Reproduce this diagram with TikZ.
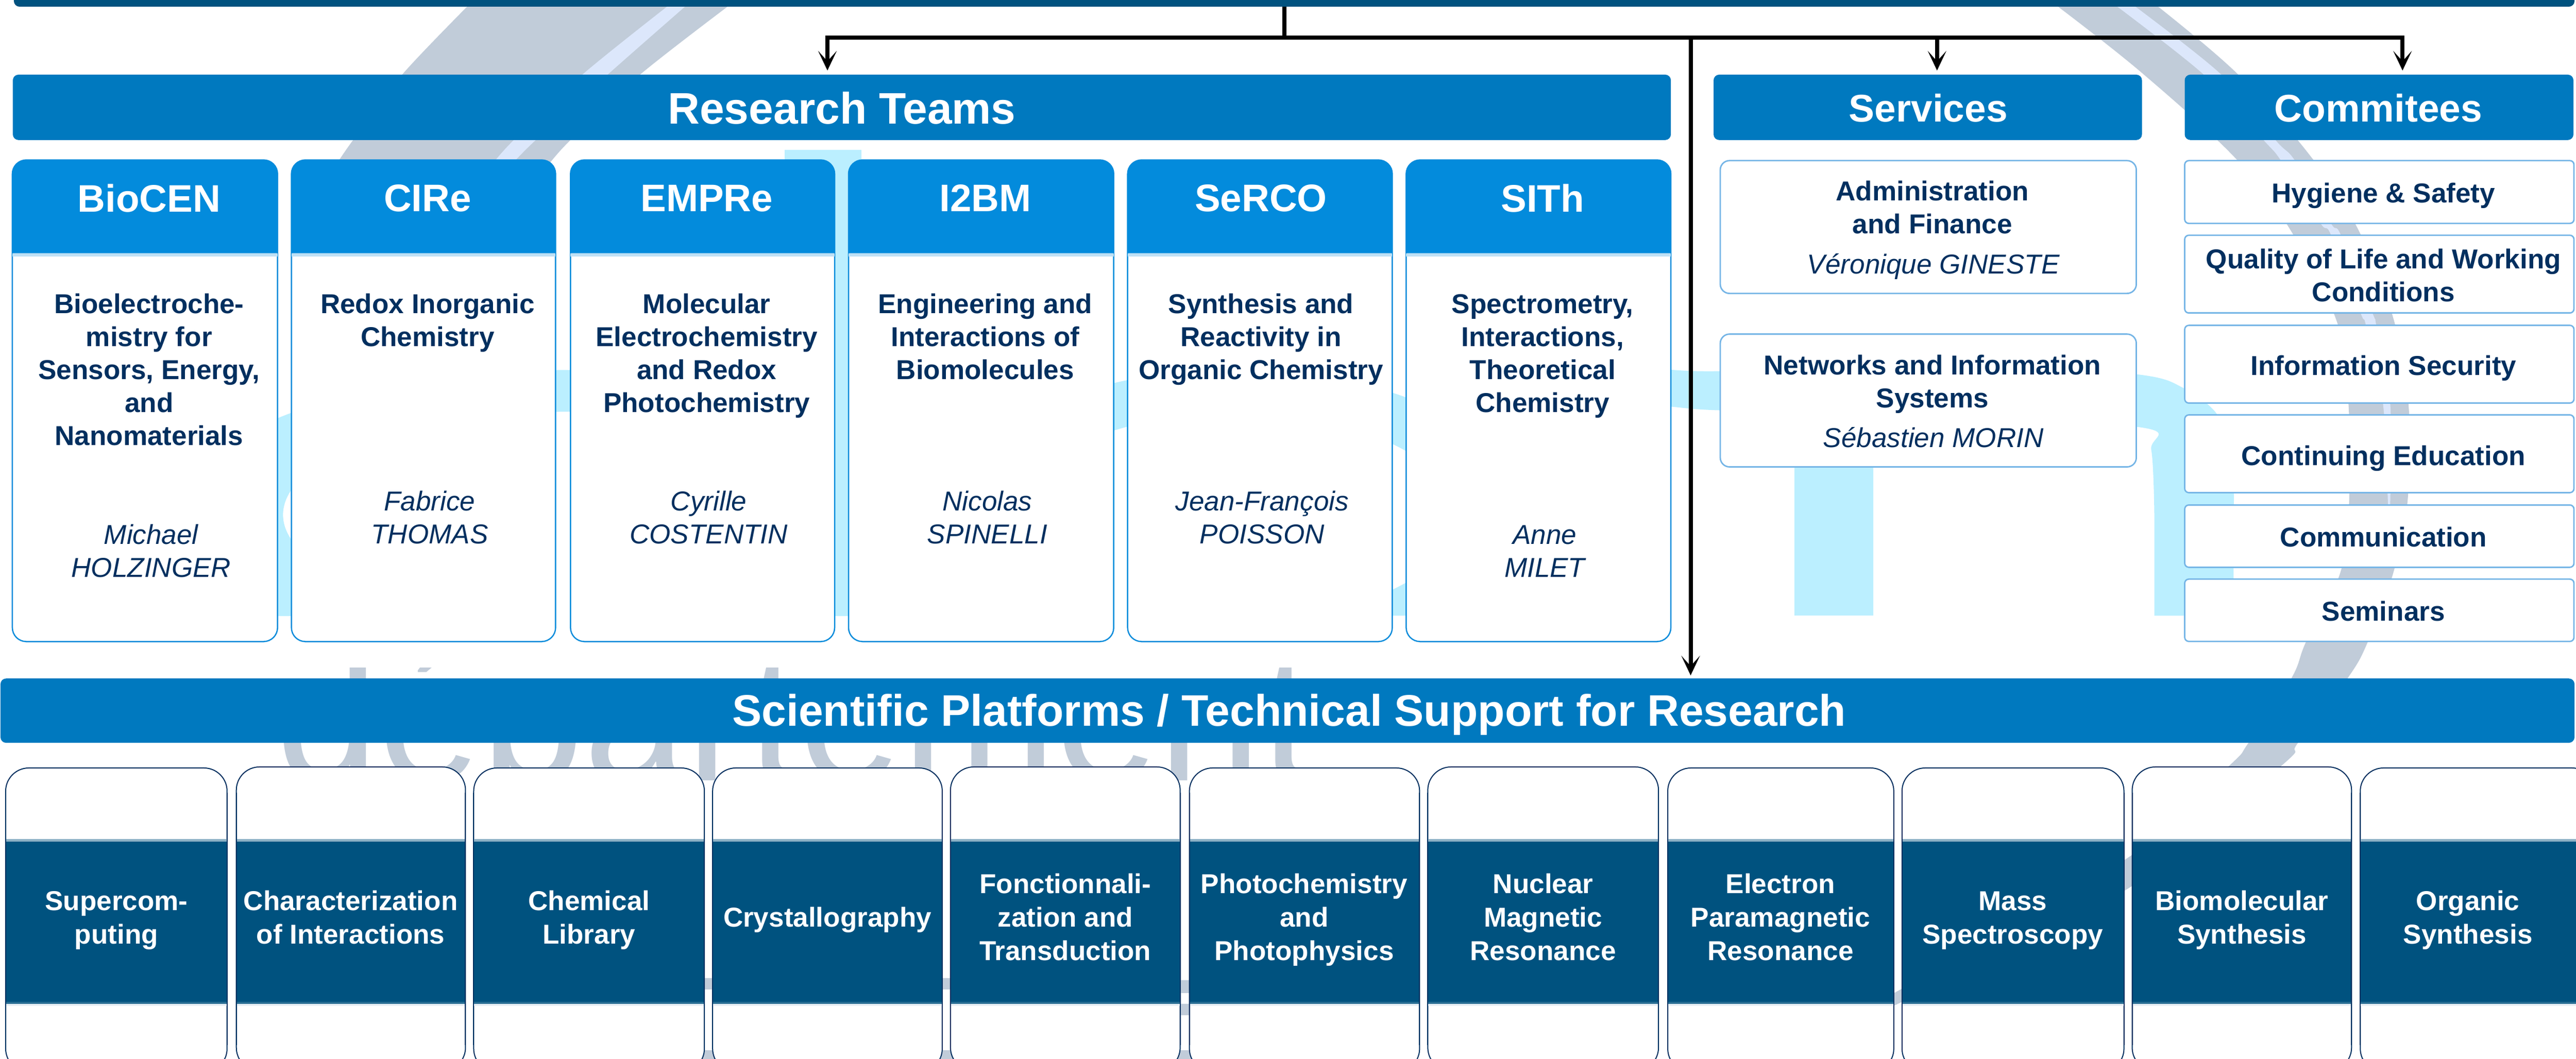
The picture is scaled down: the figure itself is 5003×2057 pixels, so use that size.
\documentclass[tikz,border=0pt]{standalone}
\usepackage{fontspec}
\setmainfont{Liberation Sans}
\usetikzlibrary{arrows.meta,calc}
\definecolor{topdark}{HTML}{00527F}
\definecolor{barblue}{HTML}{0079BF}
\definecolor{headblue}{HTML}{038BDC}
\definecolor{strip}{HTML}{BFE1F5}
\definecolor{cardline}{HTML}{0A8CDB}
\definecolor{softline}{HTML}{75B5E6}
\definecolor{navy}{HTML}{002F5F}
\definecolor{wmgrey}{HTML}{C1CCD9}
\definecolor{wmstripe}{HTML}{DCE7FB}
\definecolor{wmcyan}{HTML}{BBEFFF}
\tikzset{
  x=0.01cm,y=-0.01cm,
  bar/.style={fill=barblue,rounded corners=0.11cm,inner sep=0,outer sep=0},
  barbig/.style={text=white,font=\fontsize{24.4pt}{28pt}\selectfont\bfseries,inner sep=0},
  barsmall/.style={text=white,font=\fontsize{21.3pt}{26pt}\selectfont\bfseries,inner sep=0},
  teamcard/.style={draw=cardline,fill=white,line width=0.025cm,rounded corners=0.27cm,minimum height=9.35cm,inner sep=0,outer sep=0},
  softcard/.style={draw=softline,fill=white,line width=0.028cm,inner sep=0,outer sep=0},
  platcard/.style={draw=navy,fill=white,line width=0.02cm,rounded corners=0.45cm,minimum height=5.9cm,inner sep=0,outer sep=0},
  headtext/.style={text=white,font=\fontsize{21.2pt}{25pt}\selectfont\bfseries,inner sep=0},
  body/.style={align=center,anchor=north,inner sep=0,yshift=-0.055cm,text=navy,font=\fontsize{15.1pt}{18.2pt}\selectfont\bfseries},
  person/.style={align=center,anchor=north,inner sep=0,yshift=-0.045cm,text=navy,font=\fontsize{15.1pt}{18.2pt}\selectfont\itshape},
  plattext/.style={align=center,anchor=north,inner sep=0,yshift=-0.03cm,text=white,font=\fontsize{15.1pt}{18.5pt}\selectfont\bfseries},
  link/.style={draw=black,line width=0.08cm},
  arrowlink/.style={link,-{Stealth[length=0.38cm,width=0.36cm,inset=0.2cm]}},
}
\newcommand{\rbox}[6]{%
  \pgfmathsetmacro\myx{(#2+#4)/2}\pgfmathsetmacro\myy{(#3+#5)/2}%
  \pgfmathsetmacro\myw{(#4-#2)*0.01}\pgfmathsetmacro\myh{(#5-#3)*0.01}%
  \node[#6,minimum width=\myw cm,minimum height=\myh cm] (#1) at (\myx,\myy) {};}
\newcommand{\team}[8][0]{%
  \pgfmathsetmacro\myx{(#3+#4)/2}\pgfmathsetmacro\myt{\myx+8+#1}\pgfmathsetmacro\myp{\myx+12+1.3*#1}%
  \pgfmathsetmacro\myw{(#4-#3)*0.01}%
  \node[teamcard,minimum width=\myw cm] (#2) at (\myx,778.5) {};
  \fill[headblue] (#3,492) [rounded corners=0.27cm] -- (#3,311) -- (#4,311) [sharp corners] -- (#4,492) -- cycle;
  \fill[strip] (#3,492) rectangle (#4,498);
  \node[headtext] (#2-name) at (\myt,385) {#5};
  \node[body] (#2-topic) at (\myt,558) {\strut #6};
  \pgfmathsetmacro\myq{#8-32}%
  \node[person] (#2-lead) at (\myp,\myq) {\strut #7};}
\newcommand{\plat}[5]{%
  \pgfmathsetmacro\myx{(#2+#3)/2}\pgfmathsetmacro\myw{(#3-#2)*0.01}%
  \node[platcard,minimum width=\myw cm] (#1) at (\myx,2080+#4-293) {};
  \fill[topdark!45!white] (#2,1630) rectangle (#3,1636);
  \fill[topdark] (#2,1635) rectangle (#3,1946);
  \fill[topdark!85!white] (#2,1946) rectangle (#3,1950);
  \fill[topdark!9!white] (#2,1950) rectangle (#3,1954);
  \draw[navy,line width=0.02cm] (#2,1540) -- (#2,2030) (#3,1540) -- (#3,2030);
  #5}
\begin{document}
\begin{tikzpicture}
\clip (0,0) rectangle (5003,2057);
\fill[white] (0,0) rectangle (5003,2057);
% ---- watermark: cyan letters
\begin{scope}
  \clip (0,0) rectangle (5003,1196);
  \fill[wmcyan,even odd rule] (1100,1009) ellipse [x radius=7.62cm,y radius=2.9cm] (1100,1000) ellipse [x radius=5.5cm,y radius=2cm];
  \begin{scope}
    \clip (1800,600) -- (3000,600) -- (3000,1196) -- (2400,1196) -- (2400,1004) -- (1800,1004) -- cycle;
    \fill[wmcyan,even odd rule] (2400,1006) ellipse [x radius=5.66cm,y radius=2.88cm] (2400,1004) ellipse [x radius=4.28cm,y radius=2.01cm];
  \end{scope}
\end{scope}
\fill[wmcyan] (1524,291) rectangle (1673,1196);
\fill[wmcyan] plot[smooth,tension=0.5] coordinates {(3200,713) (3339,721) (3800,700) (4149,727) (4239,753) (4306,805) (4336,893) (4338,1000)} -- (4338,1196) -- (4184,1196) -- plot[smooth,tension=0.5] coordinates {(4184,1000) (4178,874) (4149,829) (3600,800) (3339,797) (3246,790) (3200,785)} -- cycle;
\fill[wmcyan] (3485,790) rectangle (3638,1196);
% ---- watermark: grey swoosh
\fill[wmgrey] plot[smooth,tension=0.5] coordinates {(920,0) (781,145) (680,280) (640,340)} -- plot[smooth,tension=0.5] coordinates {(1050,340) (1100,280) (1243,145) (1430,0)} -- cycle;
\fill[wmstripe] plot[smooth,tension=0.5] coordinates {(1312,0) (1131,145) (990,280) (940,340)} -- plot[smooth,tension=0.5] coordinates {(975,340) (1032,280) (1180,145) (1345,0)} -- cycle;
\fill[wmgrey] plot[smooth,tension=0.6] coordinates {(4175,0) (4346,144) (4494,312) (4585,456) (4652,632) (4679,805) (4675,982) (4648,1113) (4599,1246) (4559,1318) (4463,1443) (4428,1490) (4133,1726) (3686,1950) (3450,2040)} -- plot[smooth,tension=0.6] coordinates {(3450,2040) (3686,1925) (4133,1666) (4327,1490) (4367,1443) (4450,1318) (4479,1246) (4545,1113) (4562,982) (4561,783) (4541,632) (4454,456) (4346,312) (4158,140) (3980,0)} -- cycle;
\fill[wmstripe] plot[smooth,tension=0.5] coordinates {(4095,0) (4279,144) (4397,273) (4430,312) (4507,434) (4527,456) (4585,609) (4595,632) (4628,783) (4638,982) (4640,1010)} -- plot[smooth,tension=0.5] coordinates {(4642,982) (4642,783) (4615,632) (4608,609) (4546,456) (4527,434) (4457,312) (4420,273) (4313,144) (4130,0)} -- cycle;
\begin{scope}
  \clip (0,1297) rectangle (5003,1560);
  \node[anchor=base west,inner sep=0,text=wmgrey,font=\fontsize{102pt}{112pt}\selectfont] (wmword) at (535,1516) {département};
\end{scope}
\fill[wmgrey] (1368,1900) rectangle (1384,1922) (1830,1900) rectangle (1846,1922) (2292,1904) rectangle (2310,1929) (2292,1950) rectangle (2310,1972);
\fill[wmgrey] (1350,2040) rectangle (1400,2057) (1815,2040) rectangle (1860,2057) (2280,2040) rectangle (2325,2057);
% ---- top bar and section bars
\rbox{topbar}{27}{-30}{5000}{13}{fill=topdark,rounded corners=0.11cm,inner sep=0,outer sep=0}
\rbox{research}{25}{145}{3245}{272}{bar}
\rbox{services}{3328}{145}{4160}{272}{bar}
\rbox{committees}{4243}{145}{4998}{272}{bar}
\rbox{platforms}{1}{1318}{5000}{1443}{bar}
\node[barbig] (research-label) at (1635,210) {Research Teams};
\node[barsmall] (services-label) at (3745,210) {Services};
\node[barsmall] (committees-label) at (4619,210) {Commitees};
\node[barbig] (platforms-label) at (2504,1388) {Scientific Platforms / Technical Support for Research};
% ---- research teams
\team{biocen}{24}{539}{BioCEN}{Bioelectroche-\\mistry for\\Sensors, Energy,\\and\\Nanomaterials}{Michael\\HOLZINGER}{1039}
\team{cire}{566}{1079}{CIRe}{Redox Inorganic\\Chemistry}{Fabrice\\THOMAS}{974}
\team{empre}{1108}{1621}{EMPRe}{Molecular\\Electrochemistry\\and Redox\\Photochemistry}{Cyrille\\COSTENTIN}{974}
\team{ibm}{1648}{2163}{I2BM}{Engineering and\\Interactions of\\Biomolecules}{Nicolas\\SPINELLI}{974}
\team[-6]{serco}{2190}{2704}{SeRCO}{Synthesis and\\Reactivity in\\Organic Chemistry}{Jean-François\\POISSON}{974}
\team{sith}{2731}{3245}{SITh}{Spectrometry,\\Interactions,\\Theoretical\\Chemistry}{Anne\\MILET}{1039}
% ---- services
\rbox{admin}{3341}{312}{4149}{570}{softcard,rounded corners=0.18cm}
\rbox{networks}{3341}{649}{4149}{907}{softcard,rounded corners=0.18cm}
\node[body] (admin-t) at (3753,339) {\strut Administration\\and Finance};
\node[person] (admin-p) at (3755,482) {\strut Véronique GINESTE};
\node[body] (networks-t) at (3753,677) {\strut Networks and Information\\Systems};
\node[person] (networks-p) at (3755,819) {\strut Sébastien MORIN};
% ---- committees
\rbox{c1}{4243}{312}{4999}{434}{softcard,rounded corners=0.08cm}
\rbox{c2}{4243}{457}{4999}{608}{softcard,rounded corners=0.08cm}
\rbox{c3}{4243}{632}{4999}{783}{softcard,rounded corners=0.08cm}
\rbox{c4}{4243}{806}{4999}{957}{softcard,rounded corners=0.08cm}
\rbox{c5}{4243}{981}{4999}{1102}{softcard,rounded corners=0.08cm}
\rbox{c6}{4243}{1125}{4999}{1246}{softcard,rounded corners=0.08cm}
\node[body] (c1-t) at (4629,343) {\strut Hygiene \& Safety};
\node[body] (c2-t) at (4629,471) {\strut Quality of Life and Working\\Conditions};
\node[body] (c3-t) at (4629,678) {\strut Information Security};
\node[body] (c4-t) at (4629,853) {\strut Continuing Education};
\node[body] (c5-t) at (4629,1011) {\strut Communication};
\node[body] (c6-t) at (4629,1155) {\strut Seminars};
% ---- platforms
\plat{p1}{11}{441}{0}{\node[plattext] (p1-t) at (226,1719) {\strut Supercom-\\puting};}
\plat{p2}{459}{904}{-2}{\node[plattext] (p2-t) at (681,1719) {\strut Characterization\\of Interactions};}
\plat{p3}{920}{1368}{0}{\node[plattext] (p3-t) at (1144,1719) {\strut Chemical\\Library};}
\plat{p4}{1384}{1830}{0}{\node[plattext] (p4-t) at (1607,1751) {\strut Crystallography};}
\plat{p5}{1846}{2292}{-2}{\node[plattext] (p5-t) at (2069,1686) {\strut Fonctionnali-\\zation and\\Transduction};}
\plat{p6}{2310}{2757}{0}{\node[plattext] (p6-t) at (2533,1686) {\strut Photochemistry\\and\\Photophysics};}
\plat{p7}{2773}{3221}{-2}{\node[plattext] (p7-t) at (2997,1686) {\strut Nuclear\\Magnetic\\Resonance};}
\plat{p8}{3239}{3678}{0}{\node[plattext] (p8-t) at (3458,1686) {\strut Electron\\Paramagnetic\\Resonance};}
\plat{p9}{3694}{4125}{0}{\node[plattext] (p9-t) at (3909,1719) {\strut Mass\\Spectroscopy};}
\plat{p10}{4141}{4567}{-2}{\node[plattext] (p10-t) at (4354,1719) {\strut Biomolecular\\Synthesis};}
\plat{p11}{4584}{5040}{0}{\node[plattext] (p11-t) at (4793,1719) {\strut Organic\\Synthesis};}
% ---- connectors
\coordinate (hub) at (2494,73);
\draw[link] (hub |- topbar.south) -- (hub);
\draw[arrowlink,shorten >=0.08cm] (hub) -| ([xshift=-0.28cm]research.north);
\draw[arrowlink,shorten >=0.08cm] (hub) -| ([xshift=0.18cm]services.north);
\draw[arrowlink,shorten >=0.08cm] (hub) -| ([xshift=0.455cm]committees.north);
\draw[arrowlink,shorten >=0.06cm] (hub) -| ([xshift=7.825cm]platforms.north);
\end{tikzpicture}
\end{document}
